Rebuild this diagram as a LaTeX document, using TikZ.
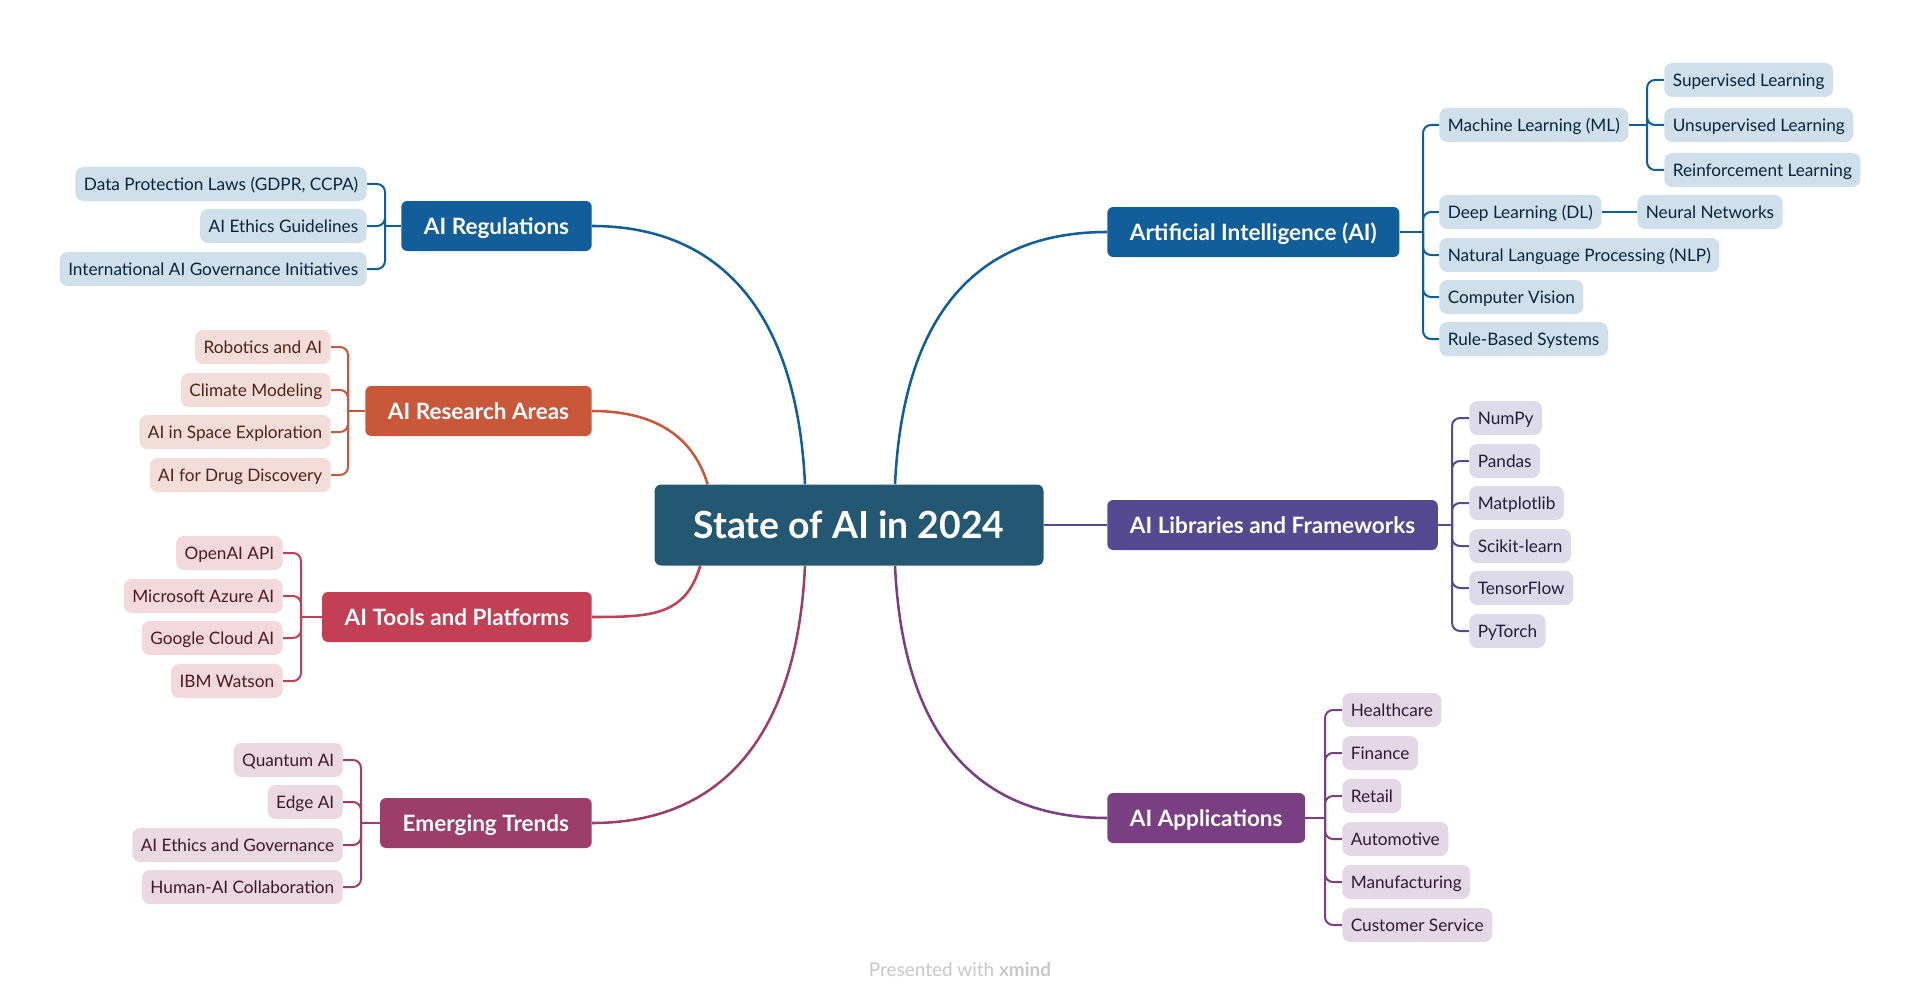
\documentclass[tikz,border=0pt]{standalone}
\usepackage{fontspec}
\setmainfont{Lato}
\usepackage{tikz}
\usetikzlibrary{positioning,backgrounds}
\usepackage{xcolor}
\definecolor{rootc}{HTML}{245872}
\definecolor{aic}{HTML}{115E9A}
\definecolor{resc}{HTML}{C9573A}
\definecolor{toolc}{HTML}{C23F54}
\definecolor{trendc}{HTML}{9C3D6A}
\definecolor{libc}{HTML}{554A8F}
\definecolor{appc}{HTML}{7A3E83}
\tikzset{
  rootbox/.style={rounded corners=5pt, fill=rootc, text=white,
              font=\fontsize{28}{32}\bfseries\selectfont, minimum width=291.75pt,
              minimum height=60.75pt, text height=20pt, text depth=0pt},
  branch/.style={rounded corners=4.5pt, fill=#1, text=white, inner xsep=17pt,
              font=\fontsize{16.9}{19}\bfseries\selectfont, minimum height=37.5pt,
              text height=12.1pt, text depth=0pt},
  leaf/.style={rounded corners=6pt, fill=#1!20, text=#1!40!black, inner xsep=6.4pt,
              font=\fontsize{12.9}{15}\selectfont, minimum height=25.5pt,
              text height=9.2pt, text depth=0pt},
  link/.style={draw=#1, line width=1.9pt},
  spine/.style={draw=#1, line width=1.5pt, rounded corners=6pt},
}

\begin{document}
\begin{tikzpicture}[x=0.75pt,y=-0.75pt]
\useasboundingbox (0,0) rectangle (1923,1002);
% centre
\node[rootbox] (root) at (849,525) {State of AI in 2024};
% right: main branches
\node[branch=aic, anchor=west] (ai) at (1107,232) {Artificial Intelligence (AI)};
\node[branch=libc, anchor=west] (lib) at (1107,525) {AI Libraries and Frameworks};
\node[branch=appc, anchor=west] (app) at (1107,818) {AI Applications};
% left: main branches
\node[branch=aic, anchor=east] (reg) at (592,226) {AI Regulations};
\node[branch=resc, anchor=east] (res) at (592,411) {AI Research Areas};
\node[branch=toolc, anchor=east] (tool) at (592,617) {AI Tools and Platforms};
\node[branch=trendc, anchor=east] (trend) at (592,823) {Emerging Trends};

% AI leaves
\node[leaf=aic, anchor=west] (ml) at (1439,125) {Machine Learning (ML)};
\node[leaf=aic, anchor=west] (dl) at (1439,212) {Deep Learning (DL)};
\node[leaf=aic, anchor=west] (nlp) at (1439,255) {Natural Language Processing (NLP)};
\node[leaf=aic, anchor=west] (cv) at (1439,297) {Computer Vision};
\node[leaf=aic, anchor=west] (rule) at (1439,339) {Rule-Based Systems};
\node[leaf=aic, anchor=west] (sup) at (1664,80) {Supervised Learning};
\node[leaf=aic, anchor=west] (unsup) at (1664,125) {Unsupervised Learning};
\node[leaf=aic, anchor=west] (reinf) at (1664,170) {Reinforcement Learning};
\node[leaf=aic, anchor=west] (nn) at (1637,212) {Neural Networks};
% libraries
\node[leaf=libc, anchor=west] (lib1) at (1469,418) {NumPy};
\node[leaf=libc, anchor=west] (lib2) at (1469,461) {Pandas};
\node[leaf=libc, anchor=west] (lib3) at (1469,503) {Matplotlib};
\node[leaf=libc, anchor=west] (lib4) at (1469,546) {Scikit-learn};
\node[leaf=libc, anchor=west] (lib5) at (1469,588) {TensorFlow};
\node[leaf=libc, anchor=west] (lib6) at (1469,631) {PyTorch};
% applications
\node[leaf=appc, anchor=west] (app1) at (1342,710) {Healthcare};
\node[leaf=appc, anchor=west] (app2) at (1342,753) {Finance};
\node[leaf=appc, anchor=west] (app3) at (1342,796) {Retail};
\node[leaf=appc, anchor=west] (app4) at (1342,839) {Automotive};
\node[leaf=appc, anchor=west] (app5) at (1342,882) {Manufacturing};
\node[leaf=appc, anchor=west] (app6) at (1342,925) {Customer Service};
% regulations
\node[leaf=aic, anchor=east] (reg1) at (367,184) {Data Protection Laws (GDPR, CCPA)};
\node[leaf=aic, anchor=east] (reg2) at (367,226) {AI Ethics Guidelines};
\node[leaf=aic, anchor=east] (reg3) at (367,269) {International AI Governance Initiatives};
% research
\node[leaf=resc, anchor=east] (res1) at (331,347) {Robotics and AI};
\node[leaf=resc, anchor=east] (res2) at (331,390) {Climate Modeling};
\node[leaf=resc, anchor=east] (res3) at (331,432) {AI in Space Exploration};
\node[leaf=resc, anchor=east] (res4) at (331,475) {AI for Drug Discovery};
% tools
\node[leaf=toolc, anchor=east] (tool1) at (283,553) {OpenAI API};
\node[leaf=toolc, anchor=east] (tool2) at (283,596) {Microsoft Azure AI};
\node[leaf=toolc, anchor=east] (tool3) at (283,638) {Google Cloud AI};
\node[leaf=toolc, anchor=east] (tool4) at (283,681) {IBM Watson};
% trends
\node[leaf=trendc, anchor=east] (trend1) at (343,760) {Quantum AI};
\node[leaf=trendc, anchor=east] (trend2) at (343,802) {Edge AI};
\node[leaf=trendc, anchor=east] (trend3) at (343,845) {AI Ethics and Governance};
\node[leaf=trendc, anchor=east] (trend4) at (343,887) {Human-AI Collaboration};

\node[font=\fontsize{14.2}{16}\selectfont, text=black!22] (credit) at (960,970)
  {Presented with \textbf{xmind}};

% junctions
\coordinate (aiJ) at (1423,232);
\coordinate (mlJ) at (1647,125);
\coordinate (libJ) at (1452,525);
\coordinate (appJ) at (1325,818);
\coordinate (regJ) at (385,226);
\coordinate (resJ) at (348,411);
\coordinate (toolJ) at (301,617);
\coordinate (trendJ) at (361,823);

\begin{scope}[on background layer]
% root to branches
\draw[link=aic] ([xshift=34.5pt]root.north) .. controls +(8,-170) and +(-130,0) .. (ai.west);
\draw[link=libc] (root.east) -- (lib.west);
\draw[link=appc] ([xshift=34.5pt]root.south) .. controls +(8,170) and +(-130,0) .. (app.west);
\draw[link=aic] ([xshift=-33pt]root.north) .. controls +(-8,-170) and +(130,0) .. (reg.east);
\draw[link=resc] ([xshift=40pt]root.north west) .. controls +(-15,-50) and +(60,0) .. (res.east);
\draw[link=toolc] ([xshift=34.5pt]root.south west) .. controls +(-15,50) and +(60,0) .. (tool.east);
\draw[link=trendc] ([xshift=-33pt]root.south) .. controls +(-8,170) and +(130,0) .. (trend.east);
% branches to leaves
\draw[spine=aic] (ai.east) -- (aiJ);
\foreach \n in {ml,dl,nlp,cv,rule} \draw[spine=aic] (aiJ) |- (\n.west);
\draw[spine=aic] (ml.east) -- (mlJ);
\foreach \n in {sup,unsup,reinf} \draw[spine=aic] (mlJ) |- (\n.west);
\draw[spine=aic] (dl.east) -- (nn.west);
\draw[spine=libc] (lib.east) -- (libJ);
\foreach \n in {lib1,lib2,lib3,lib4,lib5,lib6} \draw[spine=libc] (libJ) |- (\n.west);
\draw[spine=appc] (app.east) -- (appJ);
\foreach \n in {app1,app2,app3,app4,app5,app6} \draw[spine=appc] (appJ) |- (\n.west);
\draw[spine=aic] (reg.west) -- (regJ);
\foreach \n in {reg1,reg2,reg3} \draw[spine=aic] (regJ) |- (\n.east);
\draw[spine=resc] (res.west) -- (resJ);
\foreach \n in {res1,res2,res3,res4} \draw[spine=resc] (resJ) |- (\n.east);
\draw[spine=toolc] (tool.west) -- (toolJ);
\foreach \n in {tool1,tool2,tool3,tool4} \draw[spine=toolc] (toolJ) |- (\n.east);
\draw[spine=trendc] (trend.west) -- (trendJ);
\foreach \n in {trend1,trend2,trend3,trend4} \draw[spine=trendc] (trendJ) |- (\n.east);
\end{scope}
\end{tikzpicture}
\end{document}
